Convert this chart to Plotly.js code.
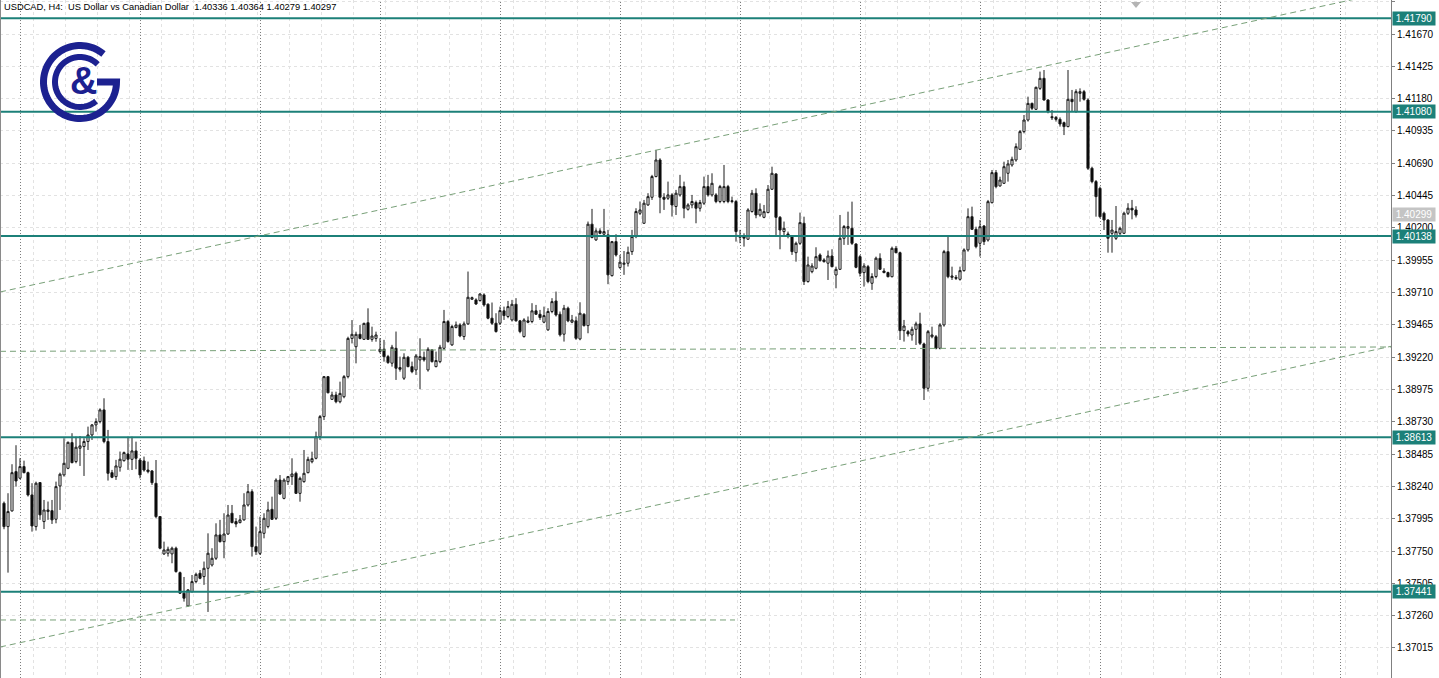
<!DOCTYPE html>
<html>
<head>
<meta charset="utf-8">
<script src="https://cdn.plot.ly/plotly-3.0.1.min.js"></script>
<style>html,body{margin:0;padding:0;background:#fff;}#chart{width:1439px;height:678px;}</style>
</head>
<body>
<div id="chart"></div>
<script>
// ---- Data (USDCAD H4) ----
const symbolTitle = "USDCAD, H4:\u00a0\u00a0US Dollar vs Canadian Dollar\u00a0\u00a01.40336 1.40364 1.40279 1.40297";
const opens = [1.38112,1.37935,1.38054,1.38352,1.38302,1.38390,1.38344,1.38175,1.37935,1.38269,
1.37973,1.38049,1.38056,1.37991,1.38243,1.38327,1.38377,1.38572,1.38428,1.38529,
1.38542,1.38580,1.38630,1.38706,1.38731,1.38820,1.38580,1.38344,1.38314,1.38385,
1.38435,1.38486,1.38445,1.38509,1.38440,1.38433,1.38364,1.38357,1.38263,1.38011,
1.37728,1.37733,1.37728,1.37771,1.37586,1.37430,1.37333,1.37442,1.37518,1.37581,
1.37556,1.37619,1.37644,1.37695,1.37872,1.37821,1.37879,1.38036,1.37973,1.37965,
1.37986,1.38099,1.38200,1.37783,1.37732,1.37884,1.37935,1.38066,1.37998,1.38288,
1.38149,1.38276,1.38314,1.38339,1.38187,1.38276,1.38344,1.38427,1.38453,1.38617,
1.38769,1.39072,1.38900,1.38933,1.38882,1.38920,1.39072,1.39362,1.39299,1.39393,
1.39355,1.39481,1.39355,1.39362,1.39262,1.39280,1.39224,1.39174,1.39287,1.39141,
1.39060,1.39219,1.39148,1.39123,1.39199,1.39219,1.39123,1.39275,1.39148,1.39186,
1.39287,1.39490,1.39313,1.39444,1.39464,1.39376,1.39472,1.39659,1.39654,1.39649,
1.39692,1.39621,1.39515,1.39477,1.39477,1.39571,1.39528,1.39502,1.39621,1.39495,
1.39376,1.39495,1.39490,1.39571,1.39545,1.39485,1.39427,1.39566,1.39646,1.39545,
1.39394,1.39591,1.39485,1.39495,1.39358,1.39545,1.39459,1.40228,1.40109,1.40177,
1.40152,1.40147,1.39838,1.40096,1.39899,1.39924,1.39932,1.40020,1.40134,1.40311,
1.40235,1.40374,1.40432,1.40589,1.40715,1.40432,1.40425,1.40450,1.40362,1.40450,
1.40513,1.40341,1.40374,1.40392,1.40349,1.40387,1.40513,1.40450,1.40450,1.40400,
1.40400,1.40513,1.40400,1.40400,1.40129,1.40139,1.40114,1.40324,1.40462,1.40298,
1.40280,1.40316,1.40493,1.40609,1.40280,1.40172,1.40154,1.40139,1.40012,1.40083,
1.40235,1.39793,1.39868,1.39894,1.39995,1.39957,1.39932,1.39987,1.39843,1.39886,
1.40121,1.40197,1.40197,1.40078,1.39982,1.39861,1.39906,1.39780,1.39831,1.39969,
1.39873,1.39861,1.39830,1.40045,1.40012,1.39421,1.39413,1.39388,1.39431,1.39472,
1.39320,1.38984,1.39375,1.39375,1.39287,1.39464,1.40020,1.39825,1.39825,1.39810,
1.39876,1.40033,1.40285,1.40189,1.40083,1.40214,1.40108,1.40391,1.40619,1.40518,
1.40538,1.40614,1.40677,1.40715,1.40796,1.40930,1.41018,1.41144,1.41099,1.41258,
1.41334,1.41170,1.41043,1.41038,1.41023,1.40998,1.40968,1.41175,1.41081,1.41220,
1.41233,1.41170,1.40652,1.40551,1.40500,1.40311,1.40260,1.40159,1.40121,1.40159,
1.40159,1.40311,1.40349,1.40336];
const highs = [1.38125,1.38188,1.38408,1.38552,1.38453,1.38435,1.38352,1.38264,1.38276,1.38269,
1.38137,1.38125,1.38137,1.38276,1.38344,1.38605,1.38580,1.38643,1.38617,1.38622,
1.38605,1.38693,1.38713,1.38756,1.38832,1.38908,1.38668,1.38365,1.38441,1.38504,
1.38504,1.38617,1.38617,1.38579,1.38453,1.38466,1.38428,1.38364,1.38440,1.38011,
1.37821,1.37783,1.37783,1.37783,1.37594,1.37553,1.37460,1.37568,1.37586,1.37606,
1.37670,1.37884,1.37771,1.37960,1.37986,1.38036,1.38099,1.38099,1.37998,1.38023,
1.38188,1.38258,1.38218,1.37935,1.38010,1.38036,1.38124,1.38162,1.38301,1.38326,
1.38301,1.38319,1.38453,1.38352,1.38314,1.38516,1.38465,1.38503,1.38655,1.38781,
1.39077,1.39077,1.38958,1.38958,1.39034,1.39084,1.39375,1.39501,1.39413,1.39463,
1.39481,1.39590,1.39451,1.39413,1.39363,1.39351,1.39237,1.39313,1.39414,1.39224,
1.39249,1.39229,1.39186,1.39244,1.39363,1.39262,1.39295,1.39280,1.39262,1.39313,
1.39578,1.39502,1.39464,1.39490,1.39477,1.39490,1.39869,1.39679,1.39666,1.39704,
1.39704,1.39628,1.39634,1.39553,1.39603,1.39603,1.39646,1.39654,1.39667,1.39502,
1.39515,1.39528,1.39629,1.39616,1.39578,1.39603,1.39591,1.39667,1.39717,1.39566,
1.39616,1.39603,1.39540,1.39528,1.39636,1.39553,1.40248,1.40344,1.40197,1.40197,
1.40344,1.40185,1.40101,1.40152,1.39995,1.40025,1.40058,1.40185,1.40349,1.40400,
1.40412,1.40463,1.40602,1.40791,1.40728,1.40463,1.40551,1.40463,1.40488,1.40602,
1.40551,1.40387,1.40450,1.40407,1.40412,1.40589,1.40602,1.40614,1.40463,1.40526,
1.40677,1.40526,1.40437,1.40412,1.40185,1.40159,1.40349,1.40488,1.40500,1.40386,
1.40374,1.40525,1.40664,1.40614,1.40290,1.40248,1.40172,1.40146,1.40096,1.40316,
1.40285,1.39982,1.39932,1.40053,1.40007,1.39970,1.40028,1.40038,1.39906,1.40298,
1.40222,1.40323,1.40399,1.40083,1.39995,1.39932,1.39919,1.39856,1.39982,1.40007,
1.39894,1.39868,1.40058,1.40063,1.40020,1.39502,1.39426,1.39451,1.39489,1.39557,
1.39330,1.39426,1.39451,1.39388,1.39477,1.40033,1.40134,1.39906,1.39843,1.39906,
1.40045,1.40348,1.40361,1.40209,1.40260,1.40222,1.40412,1.40639,1.40639,1.40588,
1.40702,1.40715,1.40740,1.40841,1.40942,1.41056,1.41195,1.41150,1.41271,1.41385,
1.41397,1.41175,1.41094,1.41048,1.41038,1.41006,1.41397,1.41246,1.41251,1.41258,
1.41246,1.41182,1.40664,1.40563,1.40513,1.40323,1.40265,1.40260,1.40366,1.40209,
1.40323,1.40387,1.40412,1.40364];
const lows = [1.37915,1.37586,1.38049,1.38238,1.38294,1.38339,1.38163,1.37897,1.37905,1.37986,
1.37917,1.37986,1.37955,1.37960,1.38061,1.38314,1.38370,1.38415,1.38415,1.38395,
1.38319,1.38516,1.38592,1.38655,1.38718,1.38567,1.38284,1.38302,1.38289,1.38352,
1.38428,1.38365,1.38364,1.38370,1.38301,1.38352,1.38339,1.38251,1.37998,1.37763,
1.37720,1.37708,1.37657,1.37586,1.37424,1.37366,1.37333,1.37435,1.37505,1.37536,
1.37493,1.37288,1.37632,1.37682,1.37814,1.37695,1.37872,1.37960,1.37930,1.37960,
1.37980,1.38087,1.37708,1.37720,1.37720,1.37846,1.37922,1.37985,1.37985,1.38175,
1.38142,1.38251,1.38251,1.38182,1.38124,1.38268,1.38339,1.38415,1.38445,1.38592,
1.38743,1.38945,1.38895,1.38870,1.38870,1.38908,1.39059,1.39324,1.39173,1.39355,
1.39350,1.39350,1.39337,1.39337,1.39249,1.39186,1.39169,1.39148,1.39047,1.39110,
1.39047,1.39143,1.39098,1.39085,1.38977,1.39186,1.39110,1.39179,1.39143,1.39174,
1.39275,1.39330,1.39305,1.39439,1.39371,1.39351,1.39464,1.39654,1.39616,1.39641,
1.39603,1.39507,1.39464,1.39406,1.39464,1.39502,1.39515,1.39490,1.39490,1.39401,
1.39368,1.39477,1.39477,1.39540,1.39502,1.39477,1.39419,1.39553,1.39528,1.39376,
1.39338,1.39485,1.39477,1.39351,1.39348,1.39452,1.39401,1.40121,1.40101,1.40152,
1.40147,1.39773,1.39831,1.39983,1.39889,1.39844,1.39907,1.39995,1.40122,1.40298,
1.40230,1.40367,1.40412,1.40584,1.40311,1.40336,1.40412,1.40286,1.40298,1.40437,
1.40273,1.40331,1.40349,1.40235,1.40324,1.40374,1.40437,1.40437,1.40387,1.40387,
1.40387,1.40387,1.40387,1.40096,1.40084,1.40058,1.40109,1.40316,1.40273,1.40285,
1.40273,1.40311,1.40488,1.40139,1.40038,1.40134,1.40121,1.39995,1.39944,1.40071,
1.39767,1.39785,1.39856,1.39886,1.39944,1.39937,1.39805,1.39901,1.39742,1.39881,
1.40071,1.40071,1.40071,1.39894,1.39831,1.39755,1.39780,1.39730,1.39818,1.39881,
1.39856,1.39825,1.39825,1.40007,1.39350,1.39338,1.39376,1.39345,1.39312,1.39312,
1.38895,1.38959,1.39363,1.39279,1.39279,1.39451,1.39818,1.39805,1.39805,1.39800,
1.39868,1.40020,1.40184,1.40045,1.39982,1.40070,1.40096,1.40386,1.40500,1.40513,
1.40533,1.40551,1.40664,1.40702,1.40791,1.40917,1.41006,1.41094,1.41094,1.41246,
1.41165,1.41069,1.41018,1.41006,1.40968,1.40904,1.40963,1.41081,1.41074,1.41157,
1.41165,1.40639,1.40538,1.40285,1.40273,1.40184,1.40012,1.40012,1.40108,1.40146,
1.40154,1.40298,1.40265,1.40279];
const closes = [1.37935,1.38049,1.38344,1.38281,1.38390,1.38344,1.38175,1.37940,1.38264,1.38024,
1.38061,1.38061,1.37986,1.38238,1.38332,1.38415,1.38574,1.38420,1.38537,1.38547,
1.38580,1.38630,1.38706,1.38731,1.38820,1.38580,1.38339,1.38309,1.38395,1.38446,
1.38496,1.38446,1.38509,1.38453,1.38327,1.38364,1.38352,1.38268,1.38011,1.37771,
1.37758,1.37763,1.37771,1.37594,1.37430,1.37392,1.37455,1.37518,1.37573,1.37543,
1.37619,1.37733,1.37695,1.37872,1.37821,1.37879,1.38023,1.37965,1.37955,1.37986,
1.38099,1.38200,1.37783,1.37745,1.37897,1.37998,1.38061,1.37990,1.38288,1.38182,
1.38288,1.38314,1.38334,1.38187,1.38301,1.38339,1.38445,1.38450,1.38617,1.38769,
1.39072,1.38950,1.38933,1.38882,1.38945,1.39072,1.39362,1.39393,1.39393,1.39362,
1.39476,1.39355,1.39380,1.39388,1.39280,1.39224,1.39179,1.39295,1.39136,1.39128,
1.39219,1.39148,1.39110,1.39229,1.39224,1.39199,1.39280,1.39186,1.39194,1.39295,
1.39490,1.39338,1.39452,1.39464,1.39381,1.39472,1.39674,1.39671,1.39623,1.39699,
1.39616,1.39515,1.39477,1.39414,1.39573,1.39535,1.39603,1.39621,1.39495,1.39414,
1.39502,1.39485,1.39571,1.39545,1.39520,1.39535,1.39566,1.39641,1.39540,1.39389,
1.39591,1.39495,1.39502,1.39363,1.39553,1.39459,1.40228,1.40127,1.40177,1.40159,
1.40172,1.39844,1.40096,1.39995,1.39940,1.39932,1.40015,1.40134,1.40324,1.40336,
1.40387,1.40437,1.40589,1.40715,1.40432,1.40417,1.40450,1.40374,1.40463,1.40513,
1.40349,1.40374,1.40400,1.40349,1.40392,1.40513,1.40450,1.40538,1.40400,1.40513,
1.40513,1.40400,1.40405,1.40172,1.40139,1.40122,1.40336,1.40463,1.40298,1.40341,
1.40323,1.40493,1.40614,1.40280,1.40184,1.40197,1.40139,1.40020,1.40083,1.40240,
1.39793,1.39919,1.39911,1.39982,1.39952,1.39944,1.39987,1.39906,1.39886,1.40121,
1.40210,1.40210,1.40083,1.39901,1.39856,1.39911,1.39793,1.39831,1.39970,1.39886,
1.39861,1.39830,1.40045,1.40012,1.39421,1.39456,1.39396,1.39431,1.39472,1.39325,
1.38984,1.39413,1.39388,1.39287,1.39464,1.40020,1.39830,1.39835,1.39818,1.39876,
1.40033,1.40285,1.40189,1.40058,1.40209,1.40096,1.40399,1.40619,1.40513,1.40563,
1.40664,1.40685,1.40720,1.40816,1.40930,1.41018,1.41144,1.41107,1.41266,1.41334,
1.41170,1.41081,1.41036,1.41023,1.40988,1.40968,1.41175,1.41157,1.41233,1.41233,
1.41175,1.40652,1.40551,1.40437,1.40285,1.40260,1.40121,1.40184,1.40172,1.40197,
1.40311,1.40349,1.40336,1.40297];
const barIndex = opens.map((_, i) => i);

// price levels (horizontal support / resistance lines)
const levels = [1.41790, 1.41080, 1.40138, 1.38613, 1.37441];
const bidPrice = 1.40299;
// price axis labels
const yTickValues = [1.41915,1.41670,1.41425,1.41180,1.40935,1.40690,1.40445,1.40200,1.39955,1.39710,
1.39465,1.39220,1.38975,1.38730,1.38485,1.38240,1.37995,1.37750,1.37505,1.37260,1.37015];
const yTickLabels = yTickValues.map(v => v.toFixed(5));
// dashed analysis lines: [barStart, priceStart, barEnd, priceEnd]
const upperChannel = [-1, 1.39714, 346.75, 1.41994];
const lowerChannel = [-1, 1.37022, 346.75, 1.39302];
const midLine      = [-1, 1.39264, 346.75, 1.39297];
const lowLine      = [-1, 1.37227, 182.75, 1.37227];

// ---- Layout helpers ----
const PW = 1391, PH = 678;
function pp(x, y) { return (x / PW).toFixed(5) + ',' + (1 - y / PH).toFixed(5); }
function arcPath(cx, cy, r, a0, a1, n) {
  let s = '';
  for (let k = 0; k <= n; k++) {
    const a = (a0 + (a1 - a0) * k / n) * Math.PI / 180;
    s += (k ? ' L' : 'M') + pp(cx + r * Math.cos(a), cy - r * Math.sin(a));
  }
  return s;
}

const teal = '#1c8079';
const green = '#78a078';
const logoBlue = '#1c2190';
const uiFont = 'Liberation Sans, Arial, sans-serif';
const shapes = [];

// vertical period separators (dotted)
for (let k = 0; k < 12; k++) {
  const xi = 4.125 + 30 * k;
  shapes.push({type: 'line', xref: 'x', yref: 'paper', x0: xi, x1: xi, y0: 0, y1: 1,
    line: {color: '#7c7c7c', width: 1, dash: '1px,2px'}, layer: 'below'});
}
// level lines
levels.forEach(l => shapes.push({type: 'line', xref: 'paper', yref: 'y', x0: 0, x1: 1, y0: l, y1: l,
  line: {color: teal, width: 2}}));
// analysis lines
[upperChannel, lowerChannel, midLine, lowLine].forEach(s => shapes.push({type: 'line', xref: 'x', yref: 'y',
  x0: s[0], y0: s[1], x1: s[2], y1: s[3], line: {color: green, width: 1, dash: '6px,4px'}}));
// left frame
shapes.push({type: 'line', xref: 'paper', yref: 'paper', x0: 0, x1: 0, y0: 0, y1: 1, line: {color: '#8a8a8a', width: 2}});
// shift marker triangle
shapes.push({type: 'path', xref: 'paper', yref: 'paper', path: 'M' + pp(1131, 2) + ' L' + pp(1141, 2) + ' L' + pp(1136, 8) + ' Z',
  fillcolor: '#b4b4b4', line: {width: 0}});
// logo arcs
shapes.push({type: 'path', xref: 'paper', yref: 'paper', path: arcPath(80, 82, 36.5, 50, 360, 80) + ' L' + pp(97, 82),
  line: {color: logoBlue, width: 7}});
shapes.push({type: 'path', xref: 'paper', yref: 'paper', path: arcPath(80, 82, 25, 45, 310, 70),
  line: {color: logoBlue, width: 6}});

const annotations = [];
annotations.push({xref: 'paper', yref: 'paper', x: 0, y: 1, xanchor: 'left', yanchor: 'top', xshift: 2, yshift: 0,
  text: symbolTitle, showarrow: false, font: {family: uiFont, size: 9.3, color: '#000'}});
levels.forEach(l => annotations.push({xref: 'paper', yref: 'y', x: 1, y: l, xanchor: 'left', yanchor: 'middle', xshift: 1,
  text: l.toFixed(5), showarrow: false, bgcolor: teal, borderpad: 1, width: 40,
  font: {family: uiFont, size: 10, color: '#ffffff'}}));
annotations.push({xref: 'paper', yref: 'y', x: 1, y: bidPrice, xanchor: 'left', yanchor: 'middle', xshift: 1,
  text: bidPrice.toFixed(5), showarrow: false, bgcolor: '#c4c4c4', borderpad: 1, width: 40,
  font: {family: uiFont, size: 10, color: '#ffffff'}});
annotations.push({xref: 'paper', yref: 'paper', x: 83 / PW, y: 1 - 81 / PH, xanchor: 'center', yanchor: 'middle',
  text: '<b>&amp;</b>', showarrow: false, font: {family: uiFont, size: 38, color: logoBlue}});

const gridX = [];
for (let k = 0; k < 44; k++) gridX.push(-0.75 + 8 * k);

const trace = {
  type: 'candlestick', x: barIndex, open: opens, high: highs, low: lows, close: closes,
  increasing: {line: {color: '#1a1a1a', width: 1}, fillcolor: '#ffffff'},
  decreasing: {line: {color: '#1a1a1a', width: 1}, fillcolor: '#000000'},
  whiskerwidth: 0, hoverinfo: 'skip', showlegend: false
};

const layout = {
  width: 1439, height: 678,
  margin: {l: 0, r: 48, t: 0, b: 0, pad: 0},
  paper_bgcolor: '#ffffff', plot_bgcolor: '#ffffff',
  showlegend: false, boxgap: 0.25,
  xaxis: {range: [-1, 346.75], showticklabels: false, tickvals: gridX, ticks: '',
    showgrid: true, gridcolor: '#e2e2e2', griddash: '3px,3px', gridwidth: 1,
    zeroline: false, showline: false, rangeslider: {visible: false}, fixedrange: true},
  yaxis: {side: 'right', range: [1.36787, 1.41928], tickvals: yTickValues, ticktext: yTickLabels,
    showgrid: true, gridcolor: '#e2e2e2', griddash: '3px,3px', gridwidth: 1, zeroline: false,
    showline: true, linecolor: '#808080', linewidth: 1, ticks: 'outside', ticklen: 3, tickcolor: '#808080',
    tickfont: {family: uiFont, size: 10, color: '#000'}, fixedrange: true},
  shapes: shapes, annotations: annotations
};

Plotly.newPlot('chart', [trace], layout, {displayModeBar: false, staticPlot: true});
</script>
</body>
</html>
